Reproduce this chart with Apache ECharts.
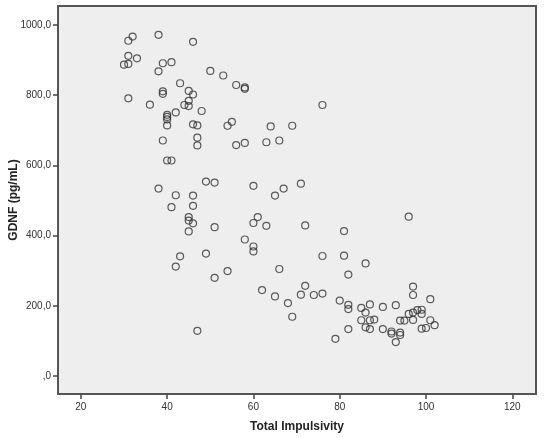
<!DOCTYPE html>
<html>
<head>
<meta charset="utf-8">
<script src="https://cdn.jsdelivr.net/npm/echarts@6/dist/echarts.min.js"></script>
<style>
  html, body { margin: 0; padding: 0; background: #ffffff; }
  #chart { width: 544px; height: 438px; }
</style>
</head>
<body>
<div id="chart"></div>
<script>
// Total Impulsivity (x) vs GDNF pg/mL (y)
const impulsivity = [
  30, 31, 31, 31, 32, 33, 31, 36, 38, 38, 39, 41, 39, 39, 40, 40, 40, 40, 42, 43,
  45, 46, 45, 44, 45, 46, 46, 47, 47, 47, 48, 39, 40, 41, 50, 53, 56, 58, 58, 54,
  55, 56, 58, 63, 64, 66, 69, 76, 38, 42, 46, 49, 51, 60, 65, 67, 71, 41, 46, 45,
  45, 46, 45, 51, 61, 60, 63, 72, 96, 81, 58, 60, 60, 76, 81, 86, 43, 42, 49, 54,
  51, 66, 82, 47, 62, 65, 68, 69, 72, 71, 74, 76, 80, 82, 82, 82, 79, 85, 86, 87,
  90, 93, 85, 87, 88, 86, 87, 90, 92, 92, 94, 94, 93, 94, 95, 96, 97, 98, 99, 99,
  97, 97, 97, 101, 101, 102, 99, 100
];
const gdnf = [
  887, 889, 912, 955, 967, 905, 791, 773, 972, 868, 891, 894, 811, 804, 744, 738, 731, 714, 751, 834,
  812, 802, 784, 772, 769, 952, 717, 714, 679, 657, 755, 671, 614, 614, 869, 856, 829, 822, 818, 713,
  724, 658, 664, 666, 711, 671, 713, 772, 534, 515, 514, 554, 551, 542, 514, 534, 548, 481, 485, 453,
  443, 435, 412, 424, 453, 436, 428, 429, 454, 413, 389, 369, 355, 342, 343, 321, 341, 312, 349, 299,
  280, 305, 289, 129, 245, 227, 208, 169, 257, 232, 231, 235, 215, 203, 191, 134, 106, 194, 181, 204,
  197, 202, 159, 159, 161, 139, 134, 134, 127, 121, 124, 117, 97, 158, 158, 177, 181, 188, 189, 177,
  160, 255, 231, 219, 159, 145, 135, 137
];
const xTicks = [20, 40, 60, 80, 100, 120];
const yTicks = [0, 200, 400, 600, 800, 1000];

const points = impulsivity.map((x, i) => [x, gdnf[i]]);

const chart = echarts.init(document.getElementById('chart'), null, { renderer: 'canvas' });

const labelFont = { color: '#333333', fontSize: 10, fontFamily: 'Liberation Sans, Arial, sans-serif' };
const titleFont = { color: '#222222', fontSize: 12, fontWeight: 'bold', fontFamily: 'Liberation Sans, Arial, sans-serif' };

chart.setOption({
  animation: false,
  backgroundColor: '#ffffff',
  grid: {
    left: 58, right: 8, top: 6, bottom: 44,
    containLabel: false,
    outerBoundsMode: 'none',
    show: true,
    backgroundColor: '#eeeeee',
    borderColor: '#555555',
    borderWidth: 2
  },
  xAxis: {
    type: 'value',
    min: 14.7,
    max: 125.5,
    name: 'Total Impulsivity',
    nameLocation: 'middle',
    nameGap: 27,
    nameMoveOverlap: false,
    nameTextStyle: titleFont,
    axisLine: { show: false, onZero: false },
    splitLine: { show: false },
    axisTick: { show: true, customValues: xTicks, length: 5, lineStyle: { color: '#444444', width: 1.5 } },
    axisLabel: { customValues: xTicks, margin: 8, ...labelFont }
  },
  yAxis: {
    type: 'value',
    min: -51,
    max: 1054,
    name: 'GDNF (pg/mL)',
    nameLocation: 'middle',
    nameGap: 38,
    nameMoveOverlap: false,
    nameTextStyle: titleFont,
    axisLine: { show: false, onZero: false },
    splitLine: { show: false },
    axisTick: { show: true, customValues: yTicks, length: 5, lineStyle: { color: '#444444', width: 1.5 } },
    axisLabel: {
      customValues: yTicks,
      margin: 7,
      ...labelFont,
      formatter: v => {
        const s = v.toFixed(1).replace('.', ',');
        return v === 0 ? s.slice(1) : s;
      }
    }
  },
  series: [{
    type: 'scatter',
    data: points,
    symbol: 'circle',
    symbolSize: 7,
    itemStyle: { color: 'rgba(0,0,0,0)', borderColor: '#333333', borderWidth: 1.2 }
  }]
});
</script>
</body>
</html>
